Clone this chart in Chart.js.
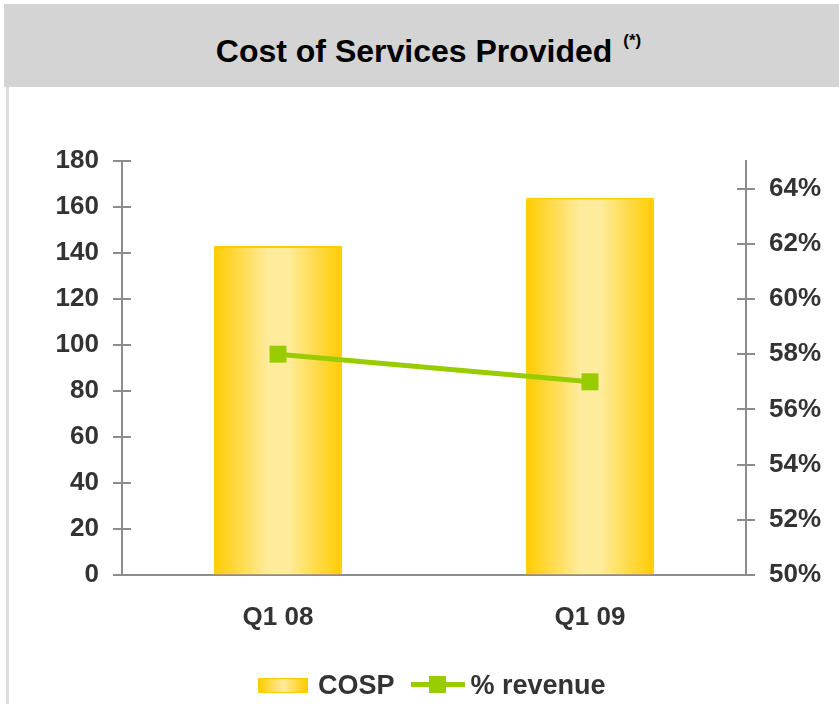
<!DOCTYPE html>
<html>
<head>
<meta charset="utf-8">
<script src="https://cdn.jsdelivr.net/npm/chart.js@4/dist/chart.umd.min.js"></script>
<style>
  html, body { margin: 0; padding: 0; background: #fff; }
  body { width: 839px; height: 704px; position: relative; overflow: hidden; font-family: "Liberation Sans", Arial, sans-serif; }
  #head { position: absolute; left: 4px; top: 4px; width: 835px; height: 83px; background: #d4d4d4;
          display: flex; align-items: center; justify-content: center; }
  #head h1 { margin: 0; padding-left: 14px; padding-top: 12px; font-size: 32px; font-weight: bold; color: #000; }
  #head sup { font-size: 17px; position: relative; top: -4px; margin-left: 2px; }
  #edge { position: absolute; left: 6px; top: 87px; width: 3px; height: 617px; background: #dcdcdc; }
  #wrap { position: absolute; left: 10px; top: 88px; }
  #legend { position: absolute; left: 258px; top: 668px; height: 34px; display: flex; align-items: center;
            font-size: 27px; font-weight: bold; color: #333; }
  .swatch { width: 48px; height: 13px; border: 1px solid #ffcc00;
            background: linear-gradient(to right, #ffcc00, #ffeb9c 50%, #ffcc00); margin-right: 10px; }
  .mark { position: relative; width: 54px; height: 18px; margin-left: 16px; margin-right: 6px; }
  .mark .ln { position: absolute; left: 0; right: 0; top: 6px; height: 5px; background: #99cc00; }
  .mark .sq { position: absolute; left: 18px; top: 0; width: 17px; height: 17px; background: #99cc00; }
</style>
</head>
<body>
<div id="head"><h1>Cost of Services Provided <sup>(*)</sup></h1></div>
<div id="edge"></div>
<div id="wrap"><canvas id="chart" width="829" height="582"></canvas></div>
<div id="legend">
  <span class="swatch"></span><span>COSP</span>
  <span class="mark"><span class="ln"></span><span class="sq"></span></span><span>% revenue</span>
</div>
<script>
// data
const quarters = ['Q1 08', 'Q1 09'];
const cosp = [143, 164];
const pctRevenue = [58.0, 57.0];
const leftTicks = { min: 0, max: 180, step: 20 };
const rightTicks = { min: 50, max: 65, step: 2 };

const AXIS = '#8c8c8c';
const TXT = '#333333';
const FONT = { family: '"Liberation Sans", Arial, sans-serif', size: 26, weight: 'bold' };
const BAR_PCT = 0.41;

// horizontal yellow gradient across each bar
function barFill(ctx) {
  const chart = ctx.chart;
  const xs = chart.scales.x;
  if (!xs || ctx.dataIndex === undefined) return '#ffcc00';
  const cx = xs.getPixelForValue(ctx.dataIndex);
  const half = xs.width / quarters.length * BAR_PCT / 2;
  if (!isFinite(cx) || !isFinite(half) || half <= 0) return '#ffcc00';
  const g = chart.ctx.createLinearGradient(cx - half, 0, cx + half, 0);
  g.addColorStop(0, '#ffcc00');
  g.addColorStop(0.42, '#ffeb9c');
  g.addColorStop(0.58, '#ffeb9c');
  g.addColorStop(1, '#ffcc00');
  return g;
}

// tick marks that cross the axis line on both sides
const crossTicks = {
  id: 'crossTicks',
  afterDraw(chart) {
    const c = chart.ctx;
    c.save();
    c.strokeStyle = AXIS;
    c.lineWidth = 2;
    ['y', 'y1'].forEach(id => {
      const s = chart.scales[id];
      const x = id === 'y' ? chart.chartArea.left : chart.chartArea.right;
      s.ticks.forEach(t => {
        const y = Math.round(s.getPixelForValue(t.value));
        c.beginPath();
        c.moveTo(x - 9, y);
        c.lineTo(x + 9, y);
        c.stroke();
      });
    });
    c.restore();
  }
};

new Chart(document.getElementById('chart'), {
  data: {
    labels: quarters,
    datasets: [
      {
        type: 'line',
        label: '% revenue',
        data: pctRevenue,
        yAxisID: 'y1',
        borderColor: '#99cc00',
        backgroundColor: '#99cc00',
        borderWidth: 5,
        pointStyle: 'rect',
        pointRadius: 12,
        pointBorderWidth: 0,
        order: 0
      },
      {
        type: 'bar',
        label: 'COSP',
        data: cosp,
        yAxisID: 'y',
        backgroundColor: barFill,
        borderColor: '#ffcc00',
        borderWidth: { top: 2, left: 0, right: 0, bottom: 0 },
        borderSkipped: false,
        barPercentage: 1,
        categoryPercentage: BAR_PCT,
        order: 1
      }
    ]
  },
  options: {
    responsive: false,
    animation: false,
    layout: { padding: { top: 73, left: 0, right: 0, bottom: 0 } },
    plugins: { legend: { display: false }, tooltip: { enabled: false } },
    scales: {
      x: {
        grid: { display: true, drawOnChartArea: false, drawTicks: false },
        border: { display: true, color: AXIS, width: 2 },
        ticks: { color: TXT, font: FONT, padding: 27 },
        afterFit(s) { s.height = 95; }
      },
      y: {
        position: 'left',
        min: leftTicks.min, max: leftTicks.max,
        grid: { display: true, drawOnChartArea: false, drawTicks: false },
        border: { display: true, color: AXIS, width: 2 },
        ticks: { stepSize: leftTicks.step, color: TXT, font: FONT, padding: 23 },
        afterFit(s) { s.width = 112; }
      },
      y1: {
        position: 'right',
        min: rightTicks.min, max: rightTicks.max,
        grid: { display: true, drawOnChartArea: false, drawTicks: false },
        border: { display: true, color: AXIS, width: 2 },
        ticks: { stepSize: rightTicks.step, includeBounds: false, color: TXT, font: FONT, padding: 23,
                 callback: v => v + '%' },
        afterFit(s) { s.width = 93; }
      }
    }
  },
  plugins: [crossTicks]
});
</script>
</body>
</html>
